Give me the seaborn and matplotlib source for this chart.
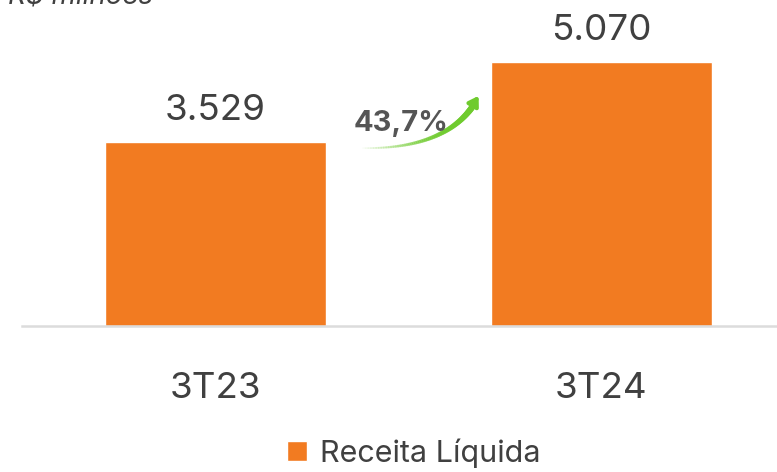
import matplotlib
matplotlib.use("Agg")
import matplotlib.pyplot as plt
import seaborn as sns
import numpy as np
import pandas as pd
from matplotlib.patches import Patch
from matplotlib.collections import LineCollection
from matplotlib.colors import to_rgba

# dados (R$ milhões)
periodos = ["3T23", "3T24"]
receita = [3529, 5070]
serie = "Receita Líquida"
variacao = "43,7%"

laranja = "#F27B21"
cinza = "#404040"
verde = "#6FCB2E"

df = pd.DataFrame({"periodo": periodos, "valor": receita, "serie": serie})

sns.set_style("white")
plt.rcParams["font.family"] = ["Inter", "DejaVu Sans"]

fig = plt.figure(figsize=(7.77, 4.72), dpi=100)
ax = fig.add_axes([22 / 777, 146 / 472, 755 / 777, 326 / 472])

sns.barplot(data=df, x="periodo", y="valor", hue="serie", palette=[laranja],
            width=0.573, dodge=False, legend=False, ax=ax, saturation=1)

ax.set_xlim(-0.501, 1.455)
ax.set_ylim(0, 6260)
ax.set_xlabel("")
ax.set_ylabel("")
ax.set_yticks([])
for s in ["top", "left", "right"]:
    ax.spines[s].set_visible(False)
ax.spines["bottom"].set_color("#dcdcdc")
ax.spines["bottom"].set_linewidth(1.8)
ax.tick_params(axis="x", length=0, pad=33, labelsize=26.5, labelcolor=cinza)

for cont in ax.containers:
    ax.bar_label(cont, labels=[f"{v:,.0f}".replace(",", ".") for v in cont.datavalues],
                 padding=11, fontsize=26.5, color=cinza)

# seta de crescimento (curva com degradê)
p0 = np.array([0.375, 3418])
p1 = np.array([0.585, 3380])
p2 = np.array([0.665, 4200])
t = np.linspace(0, 1, 60)[:, None]
pts = (1 - t) ** 2 * p0 + 2 * (1 - t) * t * p1 + t ** 2 * p2
segs = np.stack([pts[:-1], pts[1:]], axis=1)
alphas = np.linspace(0.0, 1.0, len(segs)) ** 0.8
cores = [to_rgba(verde, a) for a in alphas]
larguras = np.linspace(1.0, 4.5, len(segs))
ax.add_collection(LineCollection(segs, colors=cores, linewidths=larguras,
                                 capstyle="round"))
ax.annotate("", xy=(0.682, 4420), xytext=(pts[-3][0], pts[-3][1]),
            arrowprops=dict(arrowstyle="-|>,head_length=0.55,head_width=0.35",
                            color=verde, lw=3, shrinkA=0, shrinkB=0))
ax.text(0.48, 3890, variacao, ha="center", va="center", fontsize=21,
        fontweight="bold", color="#555555")

# titulo cortado no topo
fig.text(8 / 777, 1 - 4 / 472, "R$ milhões", ha="left", va="baseline",
         fontsize=20, style="italic", color=cinza)

fig.legend(handles=[Patch(facecolor=laranja, label=serie)], loc="center",
           bbox_to_anchor=(414 / 777, 1 - 453 / 472), frameon=False, fontsize=22,
           handlelength=0.65, handleheight=0.65, handletextpad=0.45,
           labelcolor=cinza)

fig.savefig("out.png", dpi=100)
